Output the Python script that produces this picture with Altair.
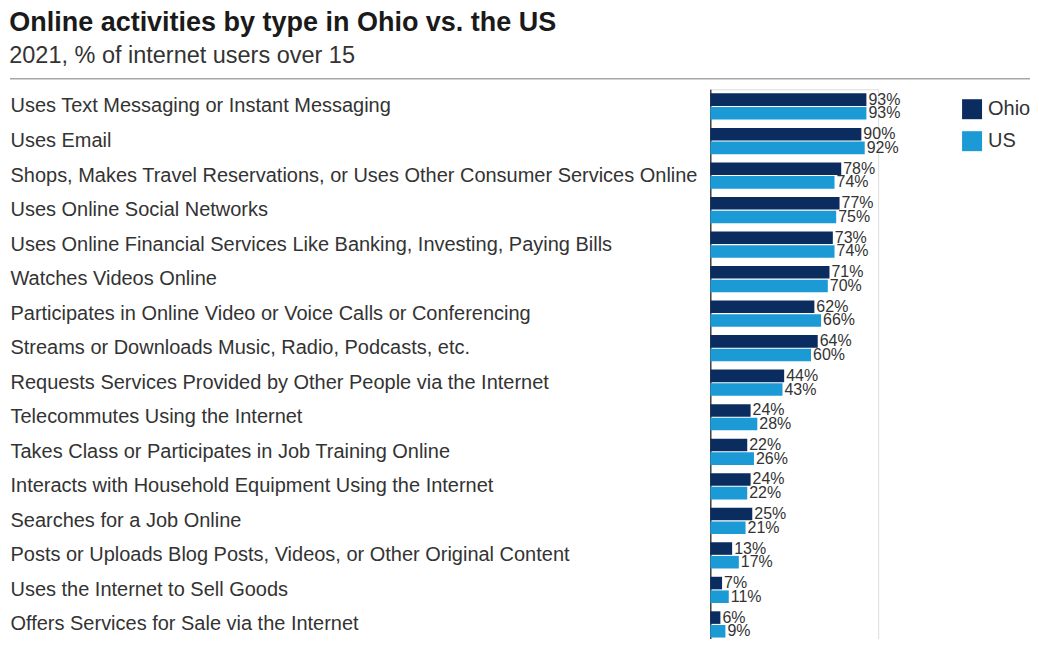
import altair as alt
import pandas as pd

categories = [
    "Uses Text Messaging or Instant Messaging",
    "Uses Email",
    "Shops, Makes Travel Reservations, or Uses Other Consumer Services Online",
    "Uses Online Social Networks",
    "Uses Online Financial Services Like Banking, Investing, Paying Bills",
    "Watches Videos Online",
    "Participates in Online Video or Voice Calls or Conferencing",
    "Streams or Downloads Music, Radio, Podcasts, etc.",
    "Requests Services Provided by Other People via the Internet",
    "Telecommutes Using the Internet",
    "Takes Class or Participates in Job Training Online",
    "Interacts with Household Equipment Using the Internet",
    "Searches for a Job Online",
    "Posts or Uploads Blog Posts, Videos, or Other Original Content",
    "Uses the Internet to Sell Goods",
    "Offers Services for Sale via the Internet",
]
ohio = [93, 90, 78, 77, 73, 71, 62, 64, 44, 24, 22, 24, 25, 13, 7, 6]
us = [93, 92, 74, 75, 74, 70, 66, 60, 43, 28, 26, 22, 21, 17, 11, 9]
series = ["Ohio", "US"]
colors = ["#0b2c5f", "#1b9ad6"]

rows = []
for c, o, u in zip(categories, ohio, us):
    rows.append({"activity": c, "region": "Ohio", "value": o, "label": f"{o}%"})
    rows.append({"activity": c, "region": "US", "value": u, "label": f"{u}%"})
df = pd.DataFrame(rows)

FONT = "Liberation Sans"

y_enc = alt.Y(
    "activity:N",
    sort=categories,
    title=None,
    scale=alt.Scale(paddingInner=0.24, paddingOuter=0.12),
    axis=alt.Axis(
        labelAlign="left",
        labelPadding=701,
        labelFontSize=20,
        labelColor="#333333",
        labelFont=FONT,
        labelLimit=0,
        ticks=False,
        domainColor="#1a1a1a",
        domainWidth=1.2,
        grid=False,
    ),
)
x_enc = alt.X("value:Q", scale=alt.Scale(domain=[0, 100]), axis=None)
yoff = alt.YOffset("region:N", sort=series, scale=alt.Scale(paddingInner=0.08))

base = alt.Chart(df)

bars = base.mark_bar().encode(
    y=y_enc,
    x=x_enc,
    yOffset=yoff,
    color=alt.Color(
        "region:N",
        sort=series,
        scale=alt.Scale(domain=series, range=colors),
        legend=alt.Legend(
            title=None,
            orient="none",
            legendX=252,
            legendY=10,
            padding=0,
            symbolType="square",
            symbolSize=400,
            symbolStrokeWidth=0,
            symbolOpacity=1,
            labelFontSize=20,
            labelFont=FONT,
            labelColor="#333333",
            rowPadding=12,
            labelOffset=6,
        ),
    ),
)

texts = base.mark_text(
    align="left", baseline="middle", dx=2, fontSize=16, font=FONT, color="#333333"
).encode(
    y=alt.Y("activity:N", sort=categories),
    x="value:Q",
    yOffset=alt.YOffset("region:N", sort=series),
    text="label:N",
)

sep = alt.Chart(pd.DataFrame({"d": [0]})).mark_rule(color="#a8a8a8", strokeWidth=1.5).encode(
    x=alt.value(-701), x2=alt.value(320), y=alt.value(-10.5)
)

chart = (
    alt.layer(sep, bars, texts)
    .properties(
        width=168,
        height=553,
        padding={"left": 1, "top": 0, "right": 0, "bottom": -3},
        title=alt.TitleParams(
            text="Online activities by type in Ohio vs. the US",
            subtitle="2021, % of internet users over 15",
            anchor="start",
            frame="bounds",
            font=FONT,
            fontSize=27,
            fontWeight="bold",
            color="#1a1a1a",
            subtitleFont=FONT,
            subtitleFontSize=23.5,
            subtitleColor="#333333",
            subtitlePadding=7,
            offset=10,
        ),
    )
    .configure_view(stroke=None)
    .configure(background="white")
)

chart.save("out.html", embed_options={"renderer": "svg", "actions": False})
